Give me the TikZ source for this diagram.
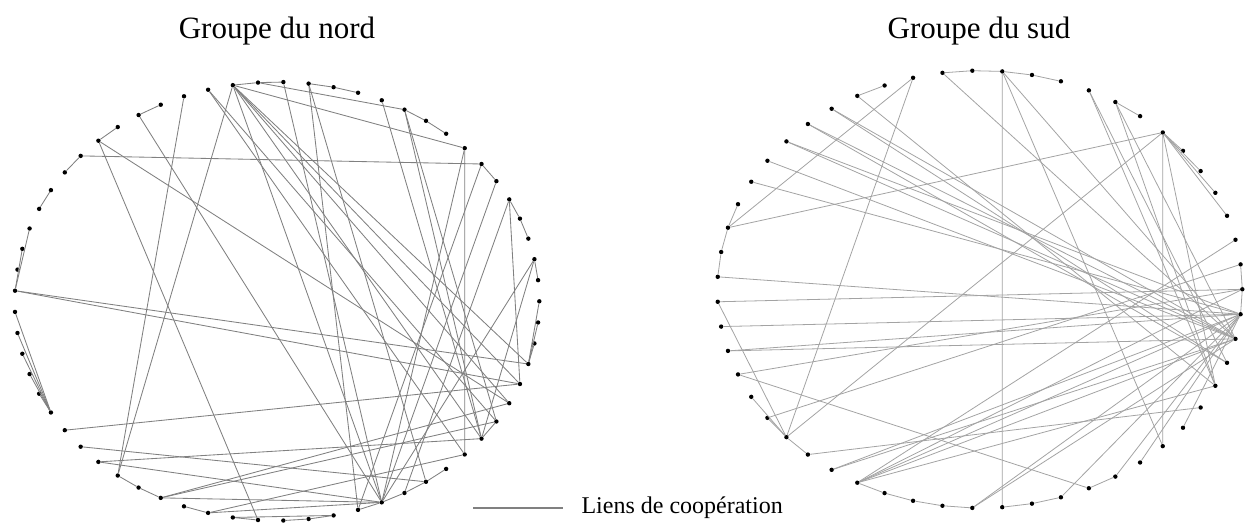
\documentclass[tikz,border=0pt]{standalone}
\usepackage{fontspec}
\setmainfont{Liberation Serif}
\begin{document}
\begin{tikzpicture}[x=1pt,y=-1pt,
  dot/.style={circle,fill=black,inner sep=0pt,minimum size=4.4pt},
  nedge/.style={draw=black!50,line width=0.85pt},
  sedge/.style={draw=black!36,line width=0.8pt},
  title/.style={font=\fontsize{31}{36}\selectfont,anchor=center},
  legtext/.style={font=\fontsize{24}{28}\selectfont,anchor=west}]
\useasboundingbox (0,0) rectangle (1245,523);
% titles
\node[title] (tn) at (277,31) {Groupe du nord};
\node[title] (ts) at (979,31) {Groupe du sud};
% north ring
\foreach \k in {0,...,64}{
  \pgfmathsetmacro\ang{\k/65*360}
  \node[dot] (n\k) at ({277+262.3*cos(\ang)},{301.3-219.3*sin(\ang)}) {};
}
% south ring
\foreach \k in {0,...,54}{
  \pgfmathsetmacro\ang{\k/55*360}
  \node[dot] (s\k) at ({979.8+262.5*cos(\ang)},{289.3-218.7*sin(\ang)}) {};
}
% north edges
\foreach \a/\b in {16/17,17/18,13/14,14/15,9/10,10/11,6/7,3/4,4/5,1/2,21/22,23/24,25/26,27/28,29/32,30/32,
  33/38,34/38,35/38,36/38,37/38,42/43,43/44,45/46,47/48,49/50,50/51,47/51,52/53,53/54,54/55,55/56,58/59,
  62/63,62/64,62/0,
  25/7,32/62,32/61,39/61,40/55,41/58,41/53,42/20,42/18,44/60,44/59,44/53,46/57,46/53,48/24,24/60,22/53,
  19/59,19/57,18/53,18/62,18/61,18/60,18/58,18/8,17/11,16/53,15/52,15/55,12/58,11/58,11/59,8/57,8/53,
  7/52,5/61,5/54,2/53,2/58,53/6}
  \draw[nedge] (n\a) -- (n\b);
% south edges
\foreach \a/\b in {14/15,13/14,12/13,11/12,17/18,8/9,7/6,7/5,7/4,7/3,1/0,0/54,24/25,25/26,26/27,32/34,33/34,
  34/35,28/34,37/38,38/39,39/40,40/41,42/43,43/44,45/46,
  16/25,16/34,15/53,18/51,19/53,19/52,20/53,20/52,21/54,21/53,22/53,23/54,25/7,27/54,28/0,29/54,30/53,
  30/54,31/0,31/45,33/1,34/7,35/50,36/54,36/53,37/2,37/0,37/54,37/53,37/51,41/54,41/53,13/42,13/48,
  44/54,46/54,47/54,7/48,49/54,10/51,10/52,9/51,9/53,7/51,13/53}
  \draw[sedge] (s\a) -- (s\b);
% legend
\coordinate (la) at (473,508.3);
\coordinate (lb) at (563,508.3);
\draw[draw=black!50,line width=2pt] (la) -- (lb);
\node[legtext] (lt) at (578,508) {Liens de coopération};
\end{tikzpicture}
\end{document}
